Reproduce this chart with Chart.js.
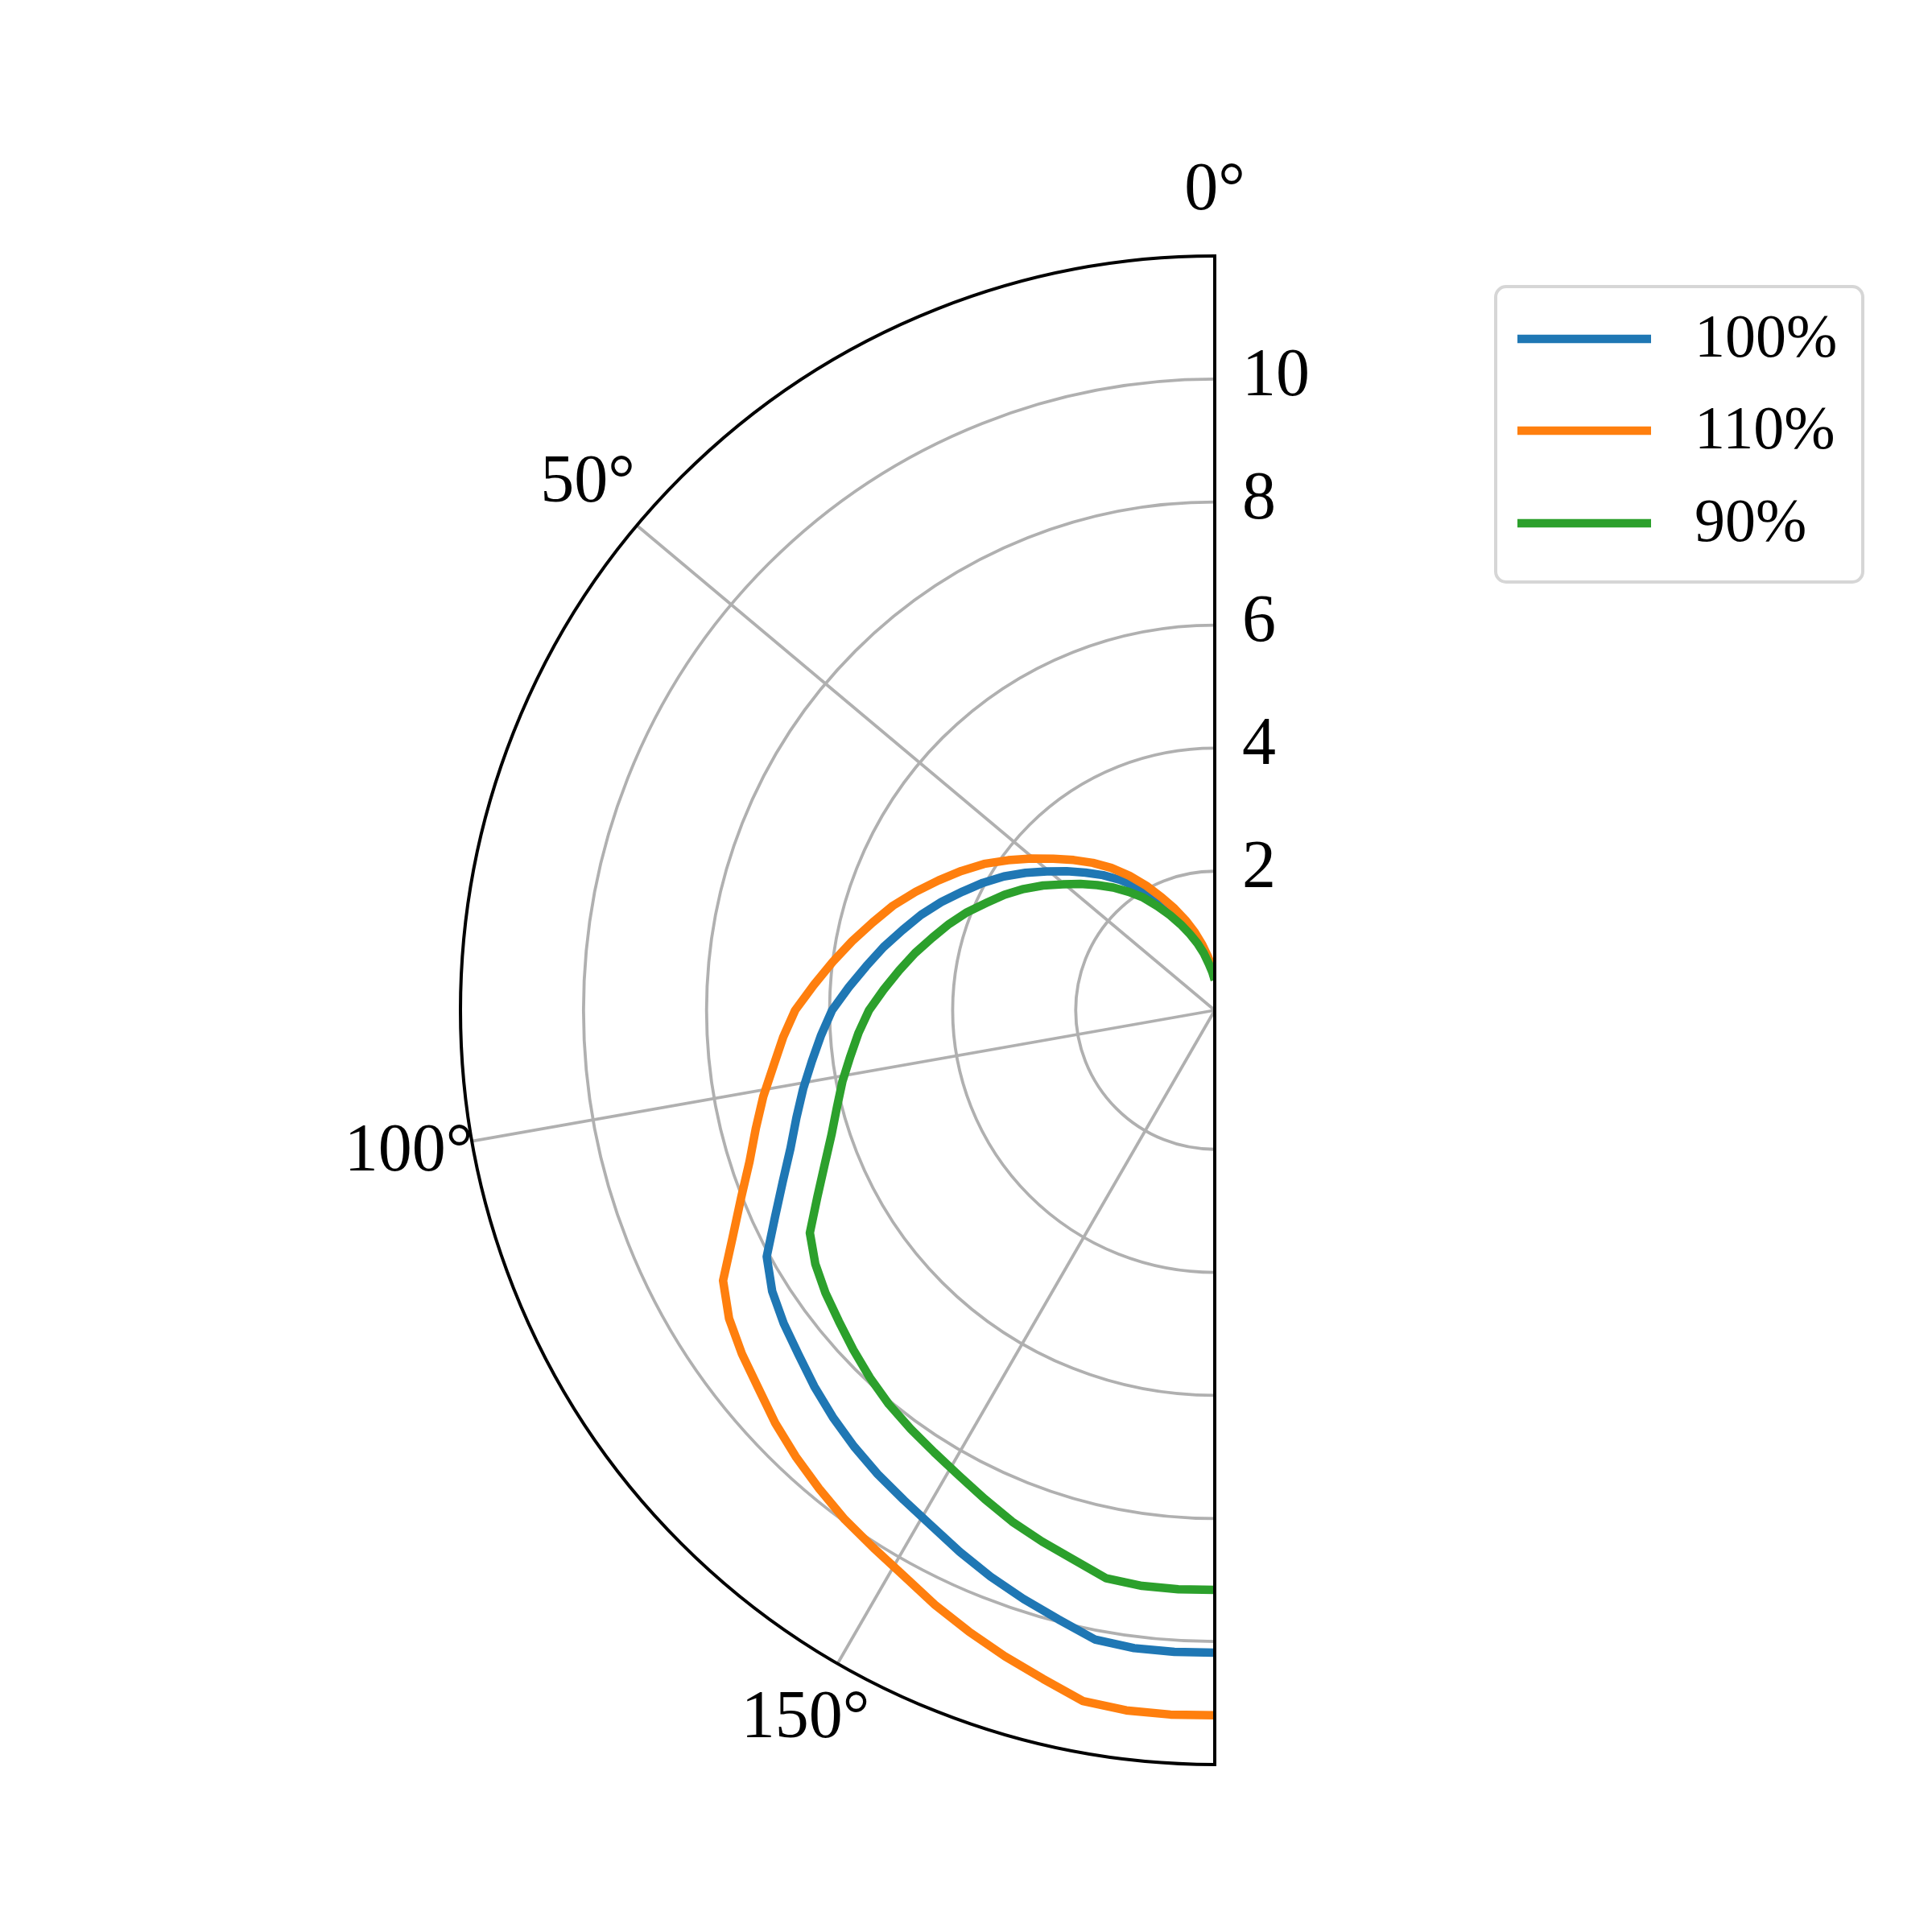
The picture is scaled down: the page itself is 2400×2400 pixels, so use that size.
<!DOCTYPE html>
<html><head><meta charset="utf-8">
<script src="https://cdn.jsdelivr.net/npm/chart.js@4.4.0/dist/chart.umd.min.js"></script>
<style>html,body{margin:0;padding:0;background:#fff;}#wrap{width:2400px;height:2400px;}</style>
</head><body><div id="wrap"><canvas id="c" width="2400" height="2400"></canvas></div>
<script>
// Angles (degrees) of the sampled points
const thetaDeg = [0, 3.6, 7.2, 10.8, 14.4, 18, 21.6, 25.2, 28.8, 32.4, 36, 39.6, 43.2, 46.8, 50.4, 54, 57.6, 61.2, 64.8, 68.4,
  72, 75.6, 79.2, 82.8, 86.4, 90, 93.6, 97.2, 100.8, 104.4, 108, 111.6, 115.2, 118.8, 122.4, 126, 129.6, 133.2, 136.8, 140.4,
  144, 147.6, 151.2, 154.8, 158.4, 162, 165.6, 169.2, 172.8, 176.4, 180];
// Radial values
const series100 = [0.25, 0.40, 0.56, 0.75, 0.95, 1.16, 1.38, 1.61, 1.86, 2.12, 2.36, 2.59, 2.81, 3.04, 3.28, 3.54, 3.80, 4.04, 4.27, 4.52,
  4.76, 4.98, 5.22, 5.45, 5.70, 5.96, 6.15, 6.34, 6.55, 6.76, 6.99, 7.29, 7.64, 8.05, 8.26, 8.40, 8.52, 8.67, 8.81, 8.94,
  9.06, 9.17, 9.30, 9.47, 9.64, 9.80, 9.96, 10.15, 10.19, 10.19, 10.18];
const series110 = [0.28, 0.44, 0.62, 0.83, 1.05, 1.28, 1.52, 1.77, 2.05, 2.33, 2.60, 2.85, 3.09, 3.34, 3.61, 3.89, 4.18, 4.44, 4.70, 4.97,
  5.24, 5.48, 5.74, 6.00, 6.27, 6.56, 6.77, 6.97, 7.21, 7.44, 7.69, 8.02, 8.40, 8.86, 9.09, 9.24, 9.37, 9.54, 9.69, 9.83,
  9.97, 10.09, 10.23, 10.42, 10.60, 10.78, 10.96, 11.17, 11.21, 11.21, 11.20];
const series90 = [0.23, 0.36, 0.50, 0.68, 0.86, 1.04, 1.24, 1.45, 1.67, 1.91, 2.12, 2.33, 2.53, 2.74, 2.95, 3.19, 3.42, 3.64, 3.84, 4.07,
  4.28, 4.48, 4.70, 4.91, 5.13, 5.36, 5.54, 5.71, 5.90, 6.08, 6.29, 6.56, 6.88, 7.25, 7.43, 7.56, 7.67, 7.80, 7.93, 8.05,
  8.15, 8.25, 8.37, 8.52, 8.68, 8.82, 8.96, 9.14, 9.17, 9.17, 9.16];
const seriesLabels = ['100%', '110%', '90%'];
const radialTicks = [2, 4, 6, 8, 10];
const radialTickLabels = ['2', '4', '6', '8', '10'];
const angleTicks = [0, 50, 100, 150];
const angleTickLabels = ['0°', '50°', '100°', '150°'];
const R_MIN = -0.26, R_MAX = 12;

const COLORS = ['#1f77b4', '#ff7f0e', '#2ca02c'];
const SPAN = R_MAX - R_MIN;
const toXY = (thDeg, r) => {
  const t = thDeg * Math.PI / 180, rho = r - R_MIN;
  return { x: -rho * Math.sin(t), y: rho * Math.cos(t) };
};
const mk = (vals) => thetaDeg.map((t, i) => toXY(t, vals[i]));

const polarPlugin = {
  id: 'polarFrame',
  beforeDatasetsDraw(chart) {
    const xs = chart.scales.x, ys = chart.scales.y, ctx = chart.ctx;
    const cx = xs.getPixelForValue(0), cy = ys.getPixelForValue(0);
    const pr = r => cx - xs.getPixelForValue(-(r - R_MIN));
    const Rout = pr(R_MAX);
    ctx.save();
    ctx.strokeStyle = '#b0b0b0';
    ctx.lineWidth = 3.8;
    radialTicks.forEach(r => {
      ctx.beginPath();
      ctx.arc(cx, cy, pr(r), -Math.PI / 2, Math.PI / 2, true);
      ctx.stroke();
    });
    angleTicks.forEach(a => {
      const t = a * Math.PI / 180;
      ctx.beginPath();
      ctx.moveTo(cx, cy);
      ctx.lineTo(cx - Rout * Math.sin(t), cy - Rout * Math.cos(t));
      ctx.stroke();
    });
    ctx.restore();
  },
  afterDatasetsDraw(chart) {
    const xs = chart.scales.x, ys = chart.scales.y, ctx = chart.ctx;
    const cx = xs.getPixelForValue(0), cy = ys.getPixelForValue(0);
    const pr = r => cx - xs.getPixelForValue(-(r - R_MIN));
    const Rout = pr(R_MAX);
    ctx.save();
    ctx.strokeStyle = '#000';
    ctx.lineWidth = 4;
    ctx.beginPath();
    ctx.arc(cx, cy, Rout, -Math.PI / 2, Math.PI / 2, true);
    ctx.stroke();
    ctx.beginPath();
    ctx.moveTo(cx, cy - Rout - 2);
    ctx.lineTo(cx, cy + Rout + 2);
    ctx.stroke();

    ctx.fillStyle = '#000';
    ctx.font = '84px "Liberation Serif"';
    ctx.textAlign = 'left';
    ctx.textBaseline = 'middle';
    radialTicks.forEach((r, i) => {
      ctx.fillText(radialTickLabels[i], cx + 34, cy - pr(r) - 2);
    });
    ctx.textAlign = 'center';
    angleTicks.forEach((a, i) => {
      const t = a * Math.PI / 180, d = Rout + 80;
      ctx.fillText(angleTickLabels[i], cx - d * Math.sin(t), cy - d * Math.cos(t));
    });

    // legend
    const lx = 1858, ly = 356, lw = 456, lh = 367, rad = 13;
    ctx.beginPath();
    ctx.moveTo(lx + rad, ly);
    ctx.arcTo(lx + lw, ly, lx + lw, ly + lh, rad);
    ctx.arcTo(lx + lw, ly + lh, lx, ly + lh, rad);
    ctx.arcTo(lx, ly + lh, lx, ly, rad);
    ctx.arcTo(lx, ly, lx + lw, ly, rad);
    ctx.closePath();
    ctx.fillStyle = 'rgba(255,255,255,0.8)';
    ctx.fill();
    ctx.strokeStyle = '#d6d6d6';
    ctx.lineWidth = 4;
    ctx.stroke();
    const rowsY = [421, 535, 650];
    ctx.font = '76px "Liberation Serif"';
    ctx.textAlign = 'left';
    chart.data.datasets.forEach((ds, i) => {
      ctx.strokeStyle = ds.borderColor;
      ctx.lineWidth = 10.5;
      ctx.lineCap = 'butt';
      ctx.beginPath();
      ctx.moveTo(1885, rowsY[i]);
      ctx.lineTo(2051, rowsY[i]);
      ctx.stroke();
      ctx.fillStyle = '#000';
      ctx.fillText(ds.label, 2105, rowsY[i] + 2);
    });
    ctx.restore();
  }
};

new Chart(document.getElementById('c'), {
  type: 'scatter',
  data: {
    datasets: [
      { label: seriesLabels[0], data: mk(series100), borderColor: COLORS[0], order: 2 },
      { label: seriesLabels[1], data: mk(series110), borderColor: COLORS[1], order: 1 },
      { label: seriesLabels[2], data: mk(series90), borderColor: COLORS[2], order: 0 }
    ].map(d => Object.assign(d, {
      showLine: true, borderWidth: 10.5, pointRadius: 0, pointHoverRadius: 0, tension: 0,
      borderJoinStyle: 'round', borderCapStyle: 'butt', fill: false, backgroundColor: d.borderColor
    }))
  },
  options: {
    responsive: false,
    animation: false,
    devicePixelRatio: 1,
    layout: { padding: { left: 572, right: 891, top: 318, bottom: 208 } },
    plugins: { legend: { display: false }, tooltip: { enabled: false }, title: { display: false } },
    events: [],
    scales: {
      x: { type: 'linear', min: -SPAN, max: 0, display: false },
      y: { type: 'linear', min: -SPAN, max: SPAN, display: false }
    }
  },
  plugins: [polarPlugin]
});
</script>
</body></html>
